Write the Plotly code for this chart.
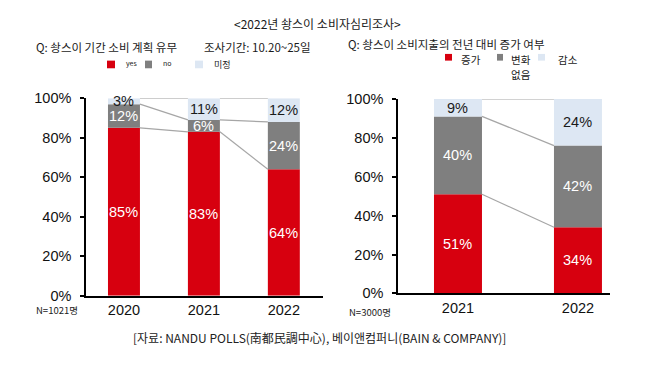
import plotly.graph_objects as go

# ---- data ----
left_years = ["2020", "2021", "2022"]
left_yes = [85, 83, 64]
left_no = [12, 6, 24]
left_undecided = [3, 11, 12]

right_years = ["2021", "2022"]
right_increase = [51, 34]
right_nochange = [40, 42]
right_decrease = [9, 24]

y_ticks = [0, 20, 40, 60, 80, 100]
y_tick_labels = ["0%", "20%", "40%", "60%", "80%", "100%"]

RED = "#d7000f"
GRAY = "#7f7f7f"
LBLUE = "#dde7f3"
LINE = "#a6a6a6"
NUMFONT = "Liberation Sans, Arial, sans-serif"
KRFONT = "Noto Sans CJK KR, sans-serif"
BAR_W = 0.4

W, H = 648, 370

fig = go.Figure()


def px_x(p):
    return p / W


def px_y(p):
    return 1 - p / H


def add_panel(years, series, colors, text_colors, xref, yref):
    xs = list(range(len(years)))
    base = [0] * len(years)
    levels = []
    for vals, col, tcol in zip(series, colors, text_colors):
        fig.add_trace(go.Bar(x=xs, y=vals, base=base, width=BAR_W,
                             marker=dict(color=col, line=dict(width=0)),
                             xaxis=xref, yaxis=yref, showlegend=False,
                             hoverinfo="skip"))
        for i, v in enumerate(vals):
            fig.add_annotation(x=xs[i], y=base[i] + v / 2, xref=xref, yref=yref,
                               text=f"{v}%", showarrow=False,
                               font=dict(family=NUMFONT, size=14.5, color=tcol))
        base = [b + v for b, v in zip(base, vals)]
        levels.append(list(base))
    for lev in levels:
        for i in range(len(xs) - 1):
            fig.add_trace(go.Scatter(x=[xs[i] + BAR_W / 2, xs[i + 1] - BAR_W / 2],
                                     y=[lev[i], lev[i + 1]], mode="lines",
                                     line=dict(color=LINE, width=1.2),
                                     xaxis=xref, yaxis=yref, showlegend=False,
                                     hoverinfo="skip", cliponaxis=False))


add_panel(left_years, [left_yes, left_no, left_undecided],
          [RED, GRAY, LBLUE], ["white", "white", "#1a1a1a"], "x", "y")
add_panel(right_years, [right_increase, right_nochange, right_decrease],
          [RED, GRAY, LBLUE], ["white", "white", "#1a1a1a"], "x2", "y2")

xcommon = dict(showline=True, linecolor="black", linewidth=1.5, ticks="",
               showgrid=False, zeroline=False,
               tickfont=dict(family=NUMFONT, size=14.5, color="#111"))
ycommon = dict(showline=True, linecolor="black", linewidth=1.5, ticks="outside",
               ticklen=4, tickcolor="black", tickwidth=1.5, showgrid=False,
               zeroline=False, range=[0, 100], tickmode="array",
               tickvals=y_ticks, ticktext=y_tick_labels,
               ticklabelstandoff=6,
               tickfont=dict(family=NUMFONT, size=14.5, color="#111"))

fig.update_layout(
    width=W, height=H, margin=dict(l=0, r=0, t=0, b=0),
    paper_bgcolor="white", plot_bgcolor="white", barmode="overlay",
    xaxis=dict(domain=[px_x(86), px_x(323)], range=[-0.475, 2.49],
               tickvals=list(range(len(left_years))), ticktext=left_years,
               anchor="y", **xcommon),
    yaxis=dict(domain=[px_y(300.7), px_y(94.3)], anchor="x", **ycommon),
    xaxis2=dict(domain=[px_x(398), px_x(610)], range=[-0.5, 1.267],
                tickvals=list(range(len(right_years))), ticktext=right_years,
                anchor="y2", **xcommon),
    yaxis2=dict(domain=[px_y(298.3), px_y(95)], anchor="x2", **ycommon),
)


def text(x, y, s, size, xanchor="left", color="#1a1a1a", family=KRFONT):
    fig.add_annotation(x=px_x(x), y=px_y(y), xref="paper", yref="paper",
                       text=s, showarrow=False, xanchor=xanchor, yanchor="middle",
                       font=dict(family=family, size=size, color=color))


def square(x0, y0, x1, y1, color):
    fig.add_shape(type="rect", xref="paper", yref="paper",
                  x0=px_x(x0), x1=px_x(x1), y0=px_y(y1), y1=px_y(y0),
                  fillcolor=color, line=dict(width=0))


text(317, 16, "&lt;2022년 솽스이 소비자심리조사&gt;", 12, xanchor="center")
text(34, 41, "Q: 솽스이 기간 소비 계획 유무", 11.5)
text(202, 41, "조사기간: 10.20~25일", 11.5)
# left legend
square(107, 55, 115, 63, RED)
text(124, 58, "yes", 7)
square(145, 55, 152, 63, GRAY)
text(161, 58, "no", 7)
square(195, 55, 203, 63, LBLUE)
text(212, 59, "미정", 9)
# right subtitle and legend
text(346, 37.5, "Q: 솽스이 소비지출의 전년 대비 증가 여부", 11.5)
square(445, 48, 452, 55, RED)
text(459, 54, "증가", 10.5)
square(497, 48, 503, 55, GRAY)
text(509, 54, "변화", 10.5)
text(509, 69, "없음", 10.5)
square(538, 48, 545, 55, LBLUE)
text(556, 54, "감소", 10.5)
# N labels
text(34, 315.5, "N=1021명", 9.5)
text(347, 318, "N=3000명", 9.5)
# source
text(319, 344, "[자료: NANDU POLLS(南都民調中心), 베이앤컴퍼니(BAIN &amp; COMPANY)]", 12,
     xanchor="center", color="#222")

# remove the default page margin so the 648x370 figure fills the window exactly
fig.write_html("out.html", config={"displayModeBar": False},
               post_script="document.body.style.margin='0';")
